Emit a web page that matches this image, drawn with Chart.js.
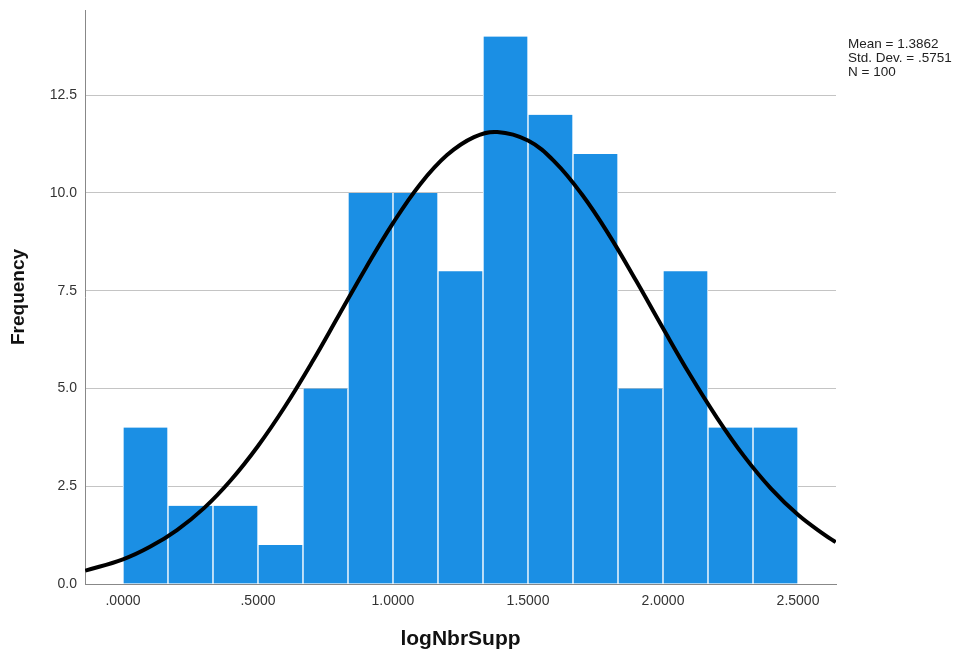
<!DOCTYPE html>
<html>
<head>
<meta charset="utf-8">
<style>
  html, body { margin: 0; padding: 0; background: #ffffff; }
  #wrap { width: 958px; height: 657px; }
</style>
<script src="https://cdn.jsdelivr.net/npm/chart.js@4.4.1/dist/chart.umd.min.js"></script>
</head>
<body>
<div id="wrap"><canvas id="c" width="958" height="657"></canvas></div>
<script>
// ---- data ----
const binCenters = [0.0833, 0.25, 0.4167, 0.5833, 0.75, 0.9167, 1.0833, 1.25, 1.4167, 1.5833, 1.75, 1.9167, 2.0833, 2.25, 2.4167];
const frequencies = [4, 2, 2, 1, 5, 10, 10, 8, 14, 12, 11, 5, 8, 4, 4];

const curveX = [-0.14, 0.0, 0.1, 0.2, 0.3, 0.4, 0.5, 0.6, 0.7, 0.8, 0.9, 1.0, 1.1, 1.2, 1.3, 1.3862, 1.5, 1.6, 1.7, 1.8, 1.9, 2.0, 2.1, 2.2, 2.3, 2.4, 2.5, 2.6, 2.64];
const curveY = [0.34, 0.63, 0.95, 1.38, 1.94, 2.66, 3.53, 4.54, 5.67, 6.88, 8.09, 9.23, 10.22, 10.97, 11.43, 11.56, 11.34, 10.79, 9.96, 8.93, 7.76, 6.54, 5.35, 4.25, 3.27, 2.44, 1.77, 1.25, 1.07];

const xTickValues = [0, 0.5, 1.0, 1.5, 2.0, 2.5];
const xTickLabels = ['.0000', '.5000', '1.0000', '1.5000', '2.0000', '2.5000'];
const yTickValues = [0, 2.5, 5, 7.5, 10, 12.5];
const yTickLabels = ['0.0', '2.5', '5.0', '7.5', '10.0', '12.5'];

const statsLines = ['Mean = 1.3862', 'Std. Dev. = .5751', 'N = 100'];
const xTitle = 'logNbrSupp';
const yTitle = 'Frequency';

// ---- chart ----
const FONT = '"Liberation Sans", Arial, Helvetica, sans-serif';

const statsPlugin = {
  id: 'stats',
  afterDraw(chart) {
    const ctx = chart.ctx;
    ctx.save();
    ctx.fillStyle = '#222222';
    ctx.font = '13.5px ' + FONT;
    ctx.textAlign = 'left';
    ctx.textBaseline = 'alphabetic';
    statsLines.forEach((t, i) => ctx.fillText(t, 848, 47.5 + i * 14));
    ctx.restore();
  }
};

new Chart(document.getElementById('c'), {
  type: 'bar',
  data: {
    datasets: [
      {
        type: 'line',
        order: 0,
        data: curveX.map((x, i) => ({ x: x, y: curveY[i] })),
        borderColor: '#000000',
        borderWidth: 4,
        pointRadius: 0,
        tension: 0.4,
        fill: false
      },
      {
        type: 'bar',
        order: 1,
        data: binCenters.map((x, i) => ({ x: x, y: frequencies[i] })),
        backgroundColor: '#1b8fe4',
        borderColor: '#ffffff',
        borderWidth: { left: 1, right: 1, top: 0, bottom: 0 },
        borderSkipped: false,
        barPercentage: 1.0,
        categoryPercentage: 1.0
      }
    ]
  },
  options: {
    responsive: false,
    animation: false,
    devicePixelRatio: 1,
    layout: { padding: { top: 10, right: 122, left: 0, bottom: 0 } },
    plugins: {
      legend: { display: false },
      tooltip: { enabled: false }
    },
    scales: {
      x: {
        type: 'linear',
        offset: false,
        min: -0.1407,
        max: 2.6407,
        afterFit(scale) { scale.height = 73; scale.paddingLeft = 0; scale.paddingRight = 0; },
        afterBuildTicks(scale) { scale.ticks = xTickValues.map(v => ({ value: v })); },
        grid: { display: false, drawTicks: false },
        border: { display: true, color: '#888888', width: 1 },
        ticks: {
          padding: 9,
          color: '#333333',
          font: { family: FONT, size: 14 },
          maxRotation: 0,
          autoSkip: false,
          callback: (v, i) => xTickLabels[i]
        },
        title: {
          display: true,
          text: xTitle,
          color: '#111111',
          font: { family: FONT, size: 21, weight: 'bold', lineHeight: 1.2 },
          padding: { top: 0, bottom: 5 }
        }
      },
      y: {
        type: 'linear',
        min: 0,
        max: 14.68,
        afterFit(scale) { scale.width = 85; scale.paddingTop = 0; scale.paddingBottom = 0; },
        afterBuildTicks(scale) { scale.ticks = yTickValues.map(v => ({ value: v })); },
        grid: { display: true, color: '#c4c4c4', lineWidth: 1, drawTicks: false },
        border: { display: true, color: '#888888', width: 1 },
        ticks: {
          padding: 8,
          color: '#333333',
          font: { family: FONT, size: 14 },
          autoSkip: false,
          callback: (v, i) => yTickLabels[i]
        },
        title: {
          display: true,
          text: yTitle,
          color: '#111111',
          font: { family: FONT, size: 19, weight: 'bold', lineHeight: 1.2 },
          padding: { top: 7, bottom: 0 }
        }
      }
    }
  },
  plugins: [statsPlugin]
});
</script>
</body>
</html>
